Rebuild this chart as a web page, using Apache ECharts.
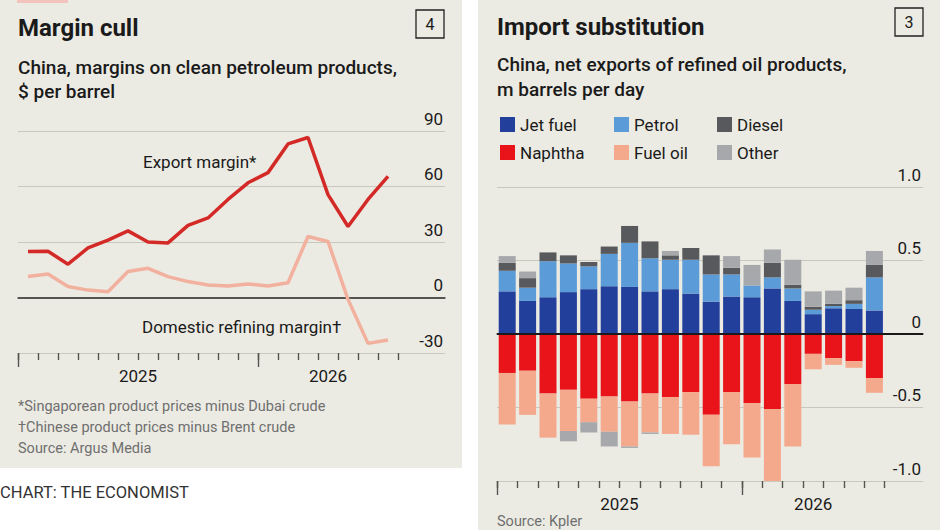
<!DOCTYPE html>
<html><head><meta charset="utf-8">
<script src="https://cdn.jsdelivr.net/npm/echarts@6/dist/echarts.min.js"></script>
<style>
html,body{margin:0;padding:0;background:#fff;}
#wrap{position:relative;width:940px;height:530px;overflow:hidden;}
.panel{position:absolute;background:#ecebe3;}
#chart{position:absolute;left:0;top:0;width:940px;height:530px;}
</style></head><body>
<div id="wrap">
<div class="panel" style="left:0;top:0;width:462px;height:468px"></div>
<div class="panel" style="left:478px;top:0;width:462px;height:530px"></div>
<div id="chart"></div>
</div>
<script>
// ---- data ----
const months = ['Jan 2025','Feb 2025','Mar 2025','Apr 2025','May 2025','Jun 2025','Jul 2025','Aug 2025','Sep 2025','Oct 2025','Nov 2025','Dec 2025','Jan 2026','Feb 2026','Mar 2026','Apr 2026','May 2026','Jun 2026','Jul 2026'];
const yearLabels = ['2025','2026'];
const yearStartIndex = [0, 12];

const exportMargin   = [24.8, 25, 18, 26.8, 31, 36, 30, 29.5, 39, 43, 53, 62, 67.5, 83, 86.5, 55.6, 38.4, 53, 65.5];
const domesticMargin = [11.3, 12.7, 5.9, 4, 3.1, 14, 15.8, 11.3, 8.6, 6.8, 6.2, 7.3, 6.2, 8, 33, 30.3, -1, -24.8, -23];
const marginTicks = [-30, 0, 30, 60, 90];

const jetFuel = [0.29,0.225,0.25,0.285,0.305,0.325,0.32,0.29,0.305,0.275,0.22,0.255,0.25,0.31,0.225,0.135,0.175,0.17,0.16];
const petrol  = [0.14,0.09,0.245,0.195,0.155,0.22,0.30,0.225,0.20,0.23,0.185,0.15,0.08,0.075,0.085,0.03,0.015,0.035,0.225];
const diesel  = [0.055,0.065,0.06,0.055,0.03,0.05,0.115,0.115,0.03,0.08,0.13,0.045,0,0.10,0.025,0.02,0.015,0.025,0.085];
const naphtha = [-0.265,-0.25,-0.405,-0.38,-0.44,-0.425,-0.46,-0.405,-0.43,-0.395,-0.55,-0.395,-0.47,-0.51,-0.34,-0.135,-0.165,-0.185,-0.30];
const fuelOil = [-0.35,-0.30,-0.30,-0.28,-0.16,-0.24,-0.305,-0.265,-0.25,-0.29,-0.35,-0.355,-0.37,-0.49,-0.425,-0.105,-0.045,-0.045,-0.10];
const other   = [0.045,0.045,0,-0.07,-0.07,-0.10,-0.01,-0.01,0.03,0,0,0.08,0.14,0.09,0.17,0.105,0.09,0.085,0.095];
const exportTicks = [-1.0, -0.5, 0, 0.5, 1.0];

// ---- helpers ----
const FONT = 'Roboto, "Noto Sans", sans-serif';
const n = months.length;
const xy = arr => arr.map((v, i) => [i + 0.5, v]);
const monthTicks = months.map((m, i) => i).concat([n]);
const yearCenters = yearStartIndex.map(s => (s + Math.min(s + 12, n)) / 2);
const yearLabelFor = v => { const k = yearCenters.indexOf(v); return k >= 0 ? yearLabels[k] : ''; };

const C = {
  exp: '#d42a27', dom: '#f1b19e',
  jet: '#213f9b', petrol: '#5b9bd8', diesel: '#58595d', naphtha: '#e8141a', fuel: '#f5a98c', other: '#a7a8ab',
  grid: '#c9c8bf', axis: '#55554f', text: '#1a1a1a', grey: '#6f6f6f'
};

// layout
const L = { left: 18, top: 131, width: 427, height: 222, month: 20 };
const R = { left: 497, top: 187, width: 426, height: 294, month: 20.4 };

function tickAxis(gridIndex, max, values, len) {
  return {
    type: 'value', gridIndex, min: 0, max, position: 'bottom', offset: 0,
    axisLine: { show: false },
    axisTick: { show: true, customValues: values, length: len, lineStyle: { color: C.axis, width: 1.4 } },
    axisLabel: { show: false }, splitLine: { show: false }
  };
}
function xAxes(gridIndex, max) {
  return [{
    type: 'value', gridIndex, min: 0, max, position: 'bottom',
    axisLine: { show: true, lineStyle: { color: C.axis, width: 1.6 } },
    axisTick: { show: false },
    axisLabel: { show: true, customValues: yearCenters, formatter: yearLabelFor, margin: 14,
      fontFamily: FONT, fontSize: 17, color: C.text },
    splitLine: { show: false }
  }, tickAxis(gridIndex, max, monthTicks, 7), tickAxis(gridIndex, max, yearStartIndex, 14)];
}

function yAxis(gridIndex, ticks, fmt) {
  return {
    type: 'value', gridIndex, position: 'right',
    min: ticks[0], max: ticks[ticks.length - 1], interval: ticks[1] - ticks[0],
    axisLine: { show: false }, axisTick: { show: false },
    axisLabel: { inside: true, align: 'right', verticalAlign: 'bottom', margin: 2, padding: [0, 0, 4, 0],
      fontFamily: FONT, fontSize: 17, color: C.text, formatter: fmt },
    splitLine: { show: true, lineStyle: { color: C.grid, width: 1.2 } }
  };
}

const zeroLine = (color) => ({ silent: true, symbol: 'none', label: { show: false }, z: 5,
  lineStyle: { color, width: 2, type: 'solid' }, data: [{ yAxis: 0 }] });

const barSeries = (name, data, color) => ({
  name, type: 'bar', xAxisIndex: 6, yAxisIndex: 2, stack: 'total', barWidth: 17,
  data: data, itemStyle: { color }, emphasis: { disabled: true }
});

const legendItem = (name, left, top) => ({
  left, top, orient: 'horizontal', itemWidth: 15, itemHeight: 15, icon: 'rect', itemGap: 0,
  selectedMode: false, data: [name],
  textStyle: { fontFamily: FONT, fontSize: 17, color: C.text }
});

const txt = (text, x, y, size, weight, color, extra) => ({
  type: 'text', x, y, silent: true,
  style: Object.assign({ text, fontFamily: FONT, fontSize: size, fontWeight: weight, fill: color,
    verticalAlign: 'middle', align: 'left' }, extra || {})
});

const chart = echarts.init(document.getElementById('chart'), null, { renderer: 'svg' });
chart.setOption({
  animation: false,
  grid: [
    { left: L.left, top: L.top, width: L.width, height: L.height },
    { left: R.left, top: R.top, width: R.width, height: R.height },
    { left: R.left, top: R.top, width: R.month * n, height: R.height }
  ],
  xAxis: xAxes(0, L.width / L.month).concat(xAxes(1, R.width / R.month)).concat([{
    type: 'category', gridIndex: 2, data: months, show: false
  }]),
  yAxis: [
    yAxis(0, marginTicks, v => String(v)),
    yAxis(1, exportTicks, v => v === 0 ? '0' : v.toFixed(1)),
    { type: 'value', gridIndex: 2, min: exportTicks[0], max: exportTicks[exportTicks.length - 1], show: false, splitLine: { show: false } }
  ],
  legend: [
    legendItem('Jet fuel', 495, 111), legendItem('Petrol', 609, 111), legendItem('Diesel', 712, 111),
    legendItem('Naphtha', 495, 139), legendItem('Fuel oil', 609, 139), legendItem('Other', 712, 139)
  ],
  series: [
    { name: 'Domestic refining margin', type: 'line', xAxisIndex: 0, yAxisIndex: 0, data: xy(domesticMargin),
      symbol: 'none', lineStyle: { color: C.dom, width: 3.5 }, itemStyle: { color: C.dom }, z: 3,
      markLine: Object.assign(zeroLine(C.axis), { z: 2 }) },
    { name: 'Export margin', type: 'line', xAxisIndex: 0, yAxisIndex: 0, data: xy(exportMargin),
      symbol: 'none', lineStyle: { color: C.exp, width: 3.5 }, itemStyle: { color: C.exp }, z: 4 },
    barSeries('Jet fuel', jetFuel, C.jet),
    barSeries('Petrol', petrol, C.petrol),
    barSeries('Diesel', diesel, C.diesel),
    barSeries('Naphtha', naphtha, C.naphtha),
    barSeries('Fuel oil', fuelOil, C.fuel),
    barSeries('Other', other, C.other),
    { name: 'zero', type: 'line', xAxisIndex: 3, yAxisIndex: 1, data: [[0, 0]], symbol: 'none',
      lineStyle: { width: 0 }, z: 6, silent: true, markLine: zeroLine('#1a1a1a') }
  ],
  graphic: [
    { type: 'rect', shape: { x: 17, y: 0, width: 51, height: 3 }, style: { fill: '#f3c3bd' }, silent: true },
    txt('Margin cull', 18, 28, 24, 'bold', C.text),
    { type: 'rect', shape: { x: 416, y: 10, width: 28, height: 28 }, style: { fill: 'none', stroke: '#222', lineWidth: 1.3 }, silent: true },
    txt('4', 430, 24.5, 16, 'normal', C.text, { align: 'center' }),
    txt('China, margins on clean petroleum products,', 18, 67, 19, 500, C.text),
    txt('$ per barrel', 18, 91, 19, 500, C.text),
    txt('Export margin*', 143, 162, 17, 'normal', C.text),
    txt('Domestic refining margin\u2020', 142, 327, 17, 'normal', C.text),
    txt('*Singaporean product prices minus Dubai crude', 18, 406, 14.5, 'normal', C.grey),
    txt('\u2020Chinese product prices minus Brent crude', 18, 427, 14.5, 'normal', C.grey),
    txt('Source: Argus Media', 18, 448, 14.5, 'normal', C.grey),
    txt('CHART: THE ECONOMIST', 0, 492, 16.5, 'normal', '#333'),
    txt('Import substitution', 497, 26.5, 24, 'bold', C.text),
    { type: 'rect', shape: { x: 895, y: 8, width: 28, height: 28 }, style: { fill: 'none', stroke: '#222', lineWidth: 1.3 }, silent: true },
    txt('3', 909, 22.5, 16, 'normal', C.text, { align: 'center' }),
    txt('China, net exports of refined oil products,', 497, 64, 19, 500, C.text),
    txt('m barrels per day', 497, 89, 19, 500, C.text),
    txt('Source: Kpler', 497, 521, 14.5, 'normal', C.grey)
  ]
});
</script>
</body></html>
